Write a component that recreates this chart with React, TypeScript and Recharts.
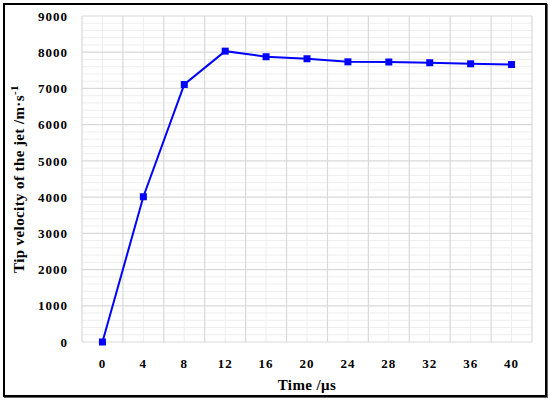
import { LineChart, Line, XAxis, YAxis, ReferenceLine } from "recharts"

// time (μs) and tip velocity (m/s)
const times = [0, 4, 8, 12, 16, 20, 24, 28, 32, 36, 40]
const velocities = [0, 4010, 7110, 8030, 7875, 7820, 7735, 7730, 7710, 7680, 7660]
const xTicks = [0, 4, 8, 12, 16, 20, 24, 28, 32, 36, 40]
const yTicks = [0, 1000, 2000, 3000, 4000, 5000, 6000, 7000, 8000, 9000]

// category boundaries (major vertical grid) and minor horizontal grid values
const xBounds = [-2, 2, 6, 10, 14, 18, 22, 26, 30, 34, 38, 42]
const yMinor: number[] = []
for (let v = 200; v < 9000; v += 200) if (v % 1000 !== 0) yMinor.push(v)

const data = times.map((t, i) => ({ t, v: velocities[i] }))

const font = "'Liberation Serif', 'Times New Roman', serif"
const tickStyle = { fill: "#000", fontSize: 13, fontWeight: 700, fontFamily: font, letterSpacing: 1 }

const YTitle = (props: any) => {
    const vb = props.viewBox || {}
    const cx = 19
    const cy = vb.y + vb.height / 2
    return (
        <text
            x={cx}
            y={cy}
            transform={`rotate(-90, ${cx}, ${cy})`}
            textAnchor="middle"
            dominantBaseline="central"
            fontFamily={font}
            fontWeight={700}
            fontSize={15}
            letterSpacing={0.4}
            fill="#000"
        >
            Tip velocity of the jet /m·s
            <tspan dy={-5} fontSize={11}>-1</tspan>
        </text>
    )
}

const SquareDot = (props: any) => {
    const { cx, cy } = props
    if (cx == null || cy == null) return null
    return <rect x={cx - 3.5} y={cy - 3.5} width={7} height={7} fill="#0000ff" />
}

export default function App() {
    return (
        <div style={{ position: "absolute", left: 0, top: 0, width: 550, height: 401, background: "#fff" }}>
            <div
                style={{
                    position: "absolute",
                    left: 3,
                    top: 3,
                    width: 540,
                    height: 390,
                    border: "2px solid #000",
                    boxShadow: "1px 1px 0 #666",
                }}
            />
            <LineChart
                width={550}
                height={401}
                data={data}
                margin={{ top: 16, right: 18, bottom: 0, left: 0 }}
                style={{ position: "absolute", left: 0, top: 0 }}
            >
                {yMinor.map((v) => (
                    <ReferenceLine key={"ym" + v} y={v} stroke="#eeeeee" strokeWidth={1} />
                ))}
                {xTicks.map((v) => (
                    <ReferenceLine key={"xm" + v} x={v} stroke="#eeeeee" strokeWidth={1} />
                ))}
                {yTicks.map((v) => (
                    <ReferenceLine key={"yM" + v} y={v} stroke="#d9d9d9" strokeWidth={1.2} />
                ))}
                {xBounds.map((v) => (
                    <ReferenceLine key={"xM" + v} x={v} stroke="#d9d9d9" strokeWidth={1.2} />
                ))}
                <XAxis
                    dataKey="t"
                    type="number"
                    domain={[-2, 42]}
                    ticks={xTicks}
                    interval={0}
                    axisLine={false}
                    tickLine={false}
                    tickSize={0}
                    tickMargin={17}
                    height={59}
                    tick={tickStyle}
                    label={{
                        value: "Time /μs",
                        position: "insideBottom",
                        offset: 11,
                        style: { fill: "#000", fontSize: 15, fontWeight: 700, fontFamily: font, letterSpacing: 0.4 },
                    }}
                />
                <YAxis
                    type="number"
                    domain={[0, 9000]}
                    ticks={yTicks}
                    interval={0}
                    axisLine={false}
                    tickLine={false}
                    tickSize={0}
                    tickMargin={14}
                    width={82}
                    tick={tickStyle}
                    label={{ content: <YTitle /> } as any}
                />
                <Line
                    dataKey="v"
                    stroke="#0000ff"
                    strokeWidth={2}
                    dot={<SquareDot />}
                    activeDot={false}
                    isAnimationActive={false}
                />
            </LineChart>
        </div>
    )
}
